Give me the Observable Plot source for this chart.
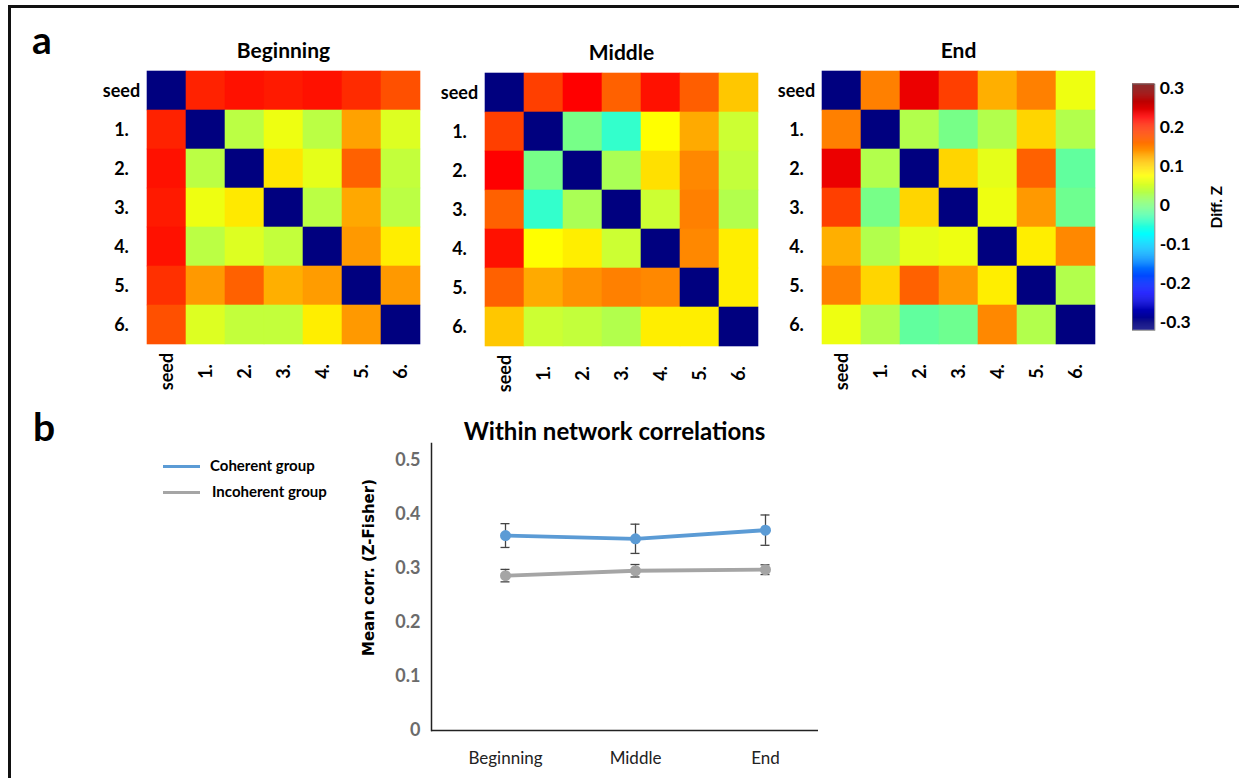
<!DOCTYPE html>
<html><head><meta charset="utf-8">
<script src="https://cdn.jsdelivr.net/npm/d3@7"></script>
<script src="https://cdn.jsdelivr.net/npm/@observablehq/plot@0.6"></script>
<style>
body{margin:0;background:#fff;}
#page{position:relative;width:1239px;height:778px;overflow:hidden;background:#fff;font-family:Lato,sans-serif;}
.panel{position:absolute;}
.panel svg{overflow:visible;}
.lbl{position:absolute;font-family:Lato,sans-serif;font-weight:bold;color:#000;white-space:nowrap;}
</style></head><body><div id="page"></div>
<script>
// ---------- data ----------
const labels = ["seed","1.","2.","3.","4.","5.","6."];
const beginning = [
  [-0.3, 0.205, 0.215, 0.21, 0.215, 0.2, 0.178],
  [0.205, -0.3, 0.035, 0.065, 0.035, 0.13, 0.055],
  [0.215, 0.035, -0.3, 0.09, 0.06, 0.168, 0.04],
  [0.21, 0.065, 0.088, -0.3, 0.035, 0.126, 0.035],
  [0.215, 0.035, 0.055, 0.04, -0.3, 0.135, 0.085],
  [0.197, 0.135, 0.168, 0.122, 0.133, -0.3, 0.135],
  [0.178, 0.055, 0.04, 0.04, 0.085, 0.135, -0.3]
];
const middle = [
  [-0.3, 0.188, 0.225, 0.168, 0.215, 0.17, 0.108],
  [0.188, -0.3, -0.005, -0.045, 0.075, 0.125, 0.045],
  [0.225, -0.005, -0.3, 0.025, 0.093, 0.145, 0.04],
  [0.168, -0.045, 0.025, -0.3, 0.045, 0.15, 0.03],
  [0.215, 0.075, 0.085, 0.045, -0.3, 0.145, 0.085],
  [0.168, 0.125, 0.14, 0.15, 0.145, -0.3, 0.085],
  [0.108, 0.045, 0.04, 0.03, 0.085, 0.085, -0.3]
];
const end = [
  [-0.3, 0.15, 0.236, 0.188, 0.122, 0.15, 0.065],
  [0.15, -0.3, 0.03, -0.005, 0.03, 0.1, 0.03],
  [0.236, 0.03, -0.3, 0.1, 0.06, 0.168, -0.018],
  [0.188, -0.005, 0.1, -0.3, 0.065, 0.135, -0.01],
  [0.122, 0.03, 0.06, 0.065, -0.3, 0.085, 0.145],
  [0.15, 0.1, 0.168, 0.135, 0.085, -0.3, 0.03],
  [0.065, 0.03, -0.018, -0.01, 0.145, 0.03, -0.3]
];
const heatTitles = ["Beginning","Middle","End"];
const colorStops = [-0.3, -0.225, -0.075, 0, 0.075, 0.225, 0.3];
const jetColors = ["#00007f","#0000ff","#00ffff","#7fff7f","#ffff00","#ff0000","#7f0000"];
const colorTicks = [-0.3, -0.2, -0.1, 0, 0.1, 0.2, 0.3];
const colorLabel = "Diff. Z";

const phases = ["Beginning","Middle","End"];
const groups = ["Coherent group","Incoherent group"];
const groupColors = ["#5B9BD5","#A5A5A5"];
const coherentMean = [0.360, 0.354, 0.370];
const coherentErr = [0.022, 0.027, 0.028];
const incoherentMean = [0.286, 0.295, 0.297];
const incoherentErr = [0.0115, 0.0115, 0.009];
const yTicks = [0, 0.1, 0.2, 0.3, 0.4, 0.5];
const lineTitle = "Within network correlations";
const yLabel = "Mean corr. (Z-Fisher)";

// ---------- layout ----------
const page = document.getElementById("page");
function place(node, left, top) {
  const d = document.createElement("div");
  d.className = "panel";
  d.style.left = left + "px"; d.style.top = top + "px";
  d.appendChild(node); page.appendChild(d); return d;
}
function label(text, left, top, size, extra) {
  const d = document.createElement("div");
  d.className = "lbl"; d.textContent = text;
  d.style.left = left + "px"; d.style.top = top + "px"; d.style.fontSize = size + "px";
  if (extra) Object.assign(d.style, extra);
  page.appendChild(d); return d;
}
// frame lines (top & left)
const fr = document.createElement("div");
Object.assign(fr.style, {position:"absolute", left:"8px", top:"5px", width:"1240px", height:"780px",
  borderTop:"3px solid #111", borderLeft:"3px solid #111"});
page.appendChild(fr);

label("a", 32, 16, 39);
label("b", 33, 403, 39);

const colorScale = {type:"linear", domain: colorStops, range: jetColors, interpolate:"rgb", clamp:true};
const baseStyle = {fontFamily:"Lato, sans-serif", fontSize:"16px", fontWeight:"bold", color:"#000", background:"transparent", overflow:"visible"};

function heatmap(matrix, title, left, top) {
  const cells = [];
  matrix.forEach((row, i) => row.forEach((v, j) => cells.push({row: labels[i], col: labels[j], v})));
  const p = Plot.plot({
    width: 344, height: 374, marginLeft: 60, marginRight: 10, marginTop: 40, marginBottom: 60,
    x: {type:"band", domain: labels, padding: 0, axis: null},
    y: {type:"band", domain: labels, padding: 0, axis: null},
    color: colorScale,
    style: baseStyle,
    marks: [
      Plot.cell(cells, {x:"col", y:"row", fill:"v", stroke:"v", strokeWidth:0.6, inset:0}),
      Plot.text(labels, {y: d => d, frameAnchor:"left", dx:-25, textAnchor:"middle", lineAnchor:"middle", fontSize:18, fontWeight:"bold"}),
      Plot.text(labels, {x: d => d, frameAnchor:"bottom", dy:27, rotate:-90, textAnchor:"middle", lineAnchor:"middle", fontSize:18, fontWeight:"bold"}),
      Plot.text([title], {frameAnchor:"top", dy:-19, textAnchor:"middle", lineAnchor:"middle", fontSize:21, fontWeight:"bold"})
    ]
  });
  place(p, left - 60, top - 40);
}
heatmap(beginning, heatTitles[0], 146, 70);
heatmap(middle, heatTitles[1], 484, 72);
heatmap(end, heatTitles[2], 821, 70);

// colorbar
const gStep = 0.0025;
const grad = d3.range(-0.32, 0.31, gStep);
const cb = Plot.plot({
  width: 110, height: 280, marginLeft: 0, marginRight: 87, marginTop: 14, marginBottom: 13,
  y: {domain: [-0.32, 0.31]},
  color: colorScale,
  style: baseStyle,
  marks: [
    Plot.rect(grad, {y1: d => d, y2: d => d + gStep + 0.0005, fill: d => d + gStep / 2}),
    Plot.frame({stroke:"#666", strokeWidth:0.8}),
    Plot.axisY(colorTicks, {anchor:"right", tickSize:0, tickPadding:5, label:null, fontSize:18, fontWeight:"bold",
      tickFormat: d => d === 0 ? "0" : String(d)}),
    Plot.text([colorLabel], {frameAnchor:"right", dx:64, rotate:-90, textAnchor:"middle", lineAnchor:"middle", fontSize:16, fontWeight:"bold"})
  ]
});
place(cb, 1132, 70);

// line chart
const rows = [];
phases.forEach((ph, i) => {
  rows.push({phase: ph, group: groups[0], mean: coherentMean[i], err: coherentErr[i]});
  rows.push({phase: ph, group: groups[1], mean: incoherentMean[i], err: incoherentErr[i]});
});
const lc = Plot.plot({
  width: 498, height: 368, marginLeft: 91, marginRight: 20, marginTop: 33, marginBottom: 48,
  x: {type:"band", domain: phases, range: [100, 490], padding: 0},
  y: {domain: [0, 0.53]},
  color: {domain: groups, range: groupColors},
  style: {...baseStyle, fontWeight:"normal"},
  marks: [
    Plot.frame({anchor:"left", stroke:"#222", strokeWidth:1.5}),
    Plot.ruleY([0], {stroke:"#222", strokeWidth:1.5}),
    Plot.axisY(yTicks, {tickSize:0, tickPadding:11, label:null, fontSize:18, fontWeight:"bold", fill:"#6b6b6b",
      tickFormat: d => d === 0 ? "0" : d.toFixed(1)}),
    Plot.axisX({tickSize:0, tickPadding:21, label:null, fontSize:17, fill:"#222"}),
    Plot.line(rows, {x:"phase", y:"mean", z:"group", stroke:"group", strokeWidth:3.8}),
    Plot.ruleX(rows, {x:"phase", y1: d => d.mean - d.err, y2: d => d.mean + d.err, stroke:"#444", strokeWidth:1.3}),
    Plot.tickY(rows, {x:"phase", y: d => d.mean + d.err, insetLeft:60.5, insetRight:60.5, stroke:"#444", strokeWidth:1.3}),
    Plot.tickY(rows, {x:"phase", y: d => d.mean - d.err, insetLeft:60.5, insetRight:60.5, stroke:"#444", strokeWidth:1.3}),
    Plot.dot(rows, {x:"phase", y:"mean", fill:"group", r:5.5}),
    Plot.text([yLabel], {frameAnchor:"left", dx:-62, dy:-19.5, rotate:-90, textAnchor:"middle", lineAnchor:"middle", fontSize:15, fontWeight:"bold", fontFamily:"DejaVu Sans"}),
    Plot.text([lineTitle], {frameAnchor:"top", dx:-10.5, dy:-11, textAnchor:"middle", lineAnchor:"middle", fontSize:24, fontWeight:"bold"})
  ]
});
place(lc, 340, 410);

// legend
groups.forEach((g, i) => {
  const ln = document.createElement("div");
  Object.assign(ln.style, {position:"absolute", left:"163px", top:(465 + i * 26) + "px", width:"37px", height:"3px", background: groupColors[i]});
  page.appendChild(ln);
  label(g, 210 + i * 2, 456 + i * 26, 15);
});
</script>
</body></html>
